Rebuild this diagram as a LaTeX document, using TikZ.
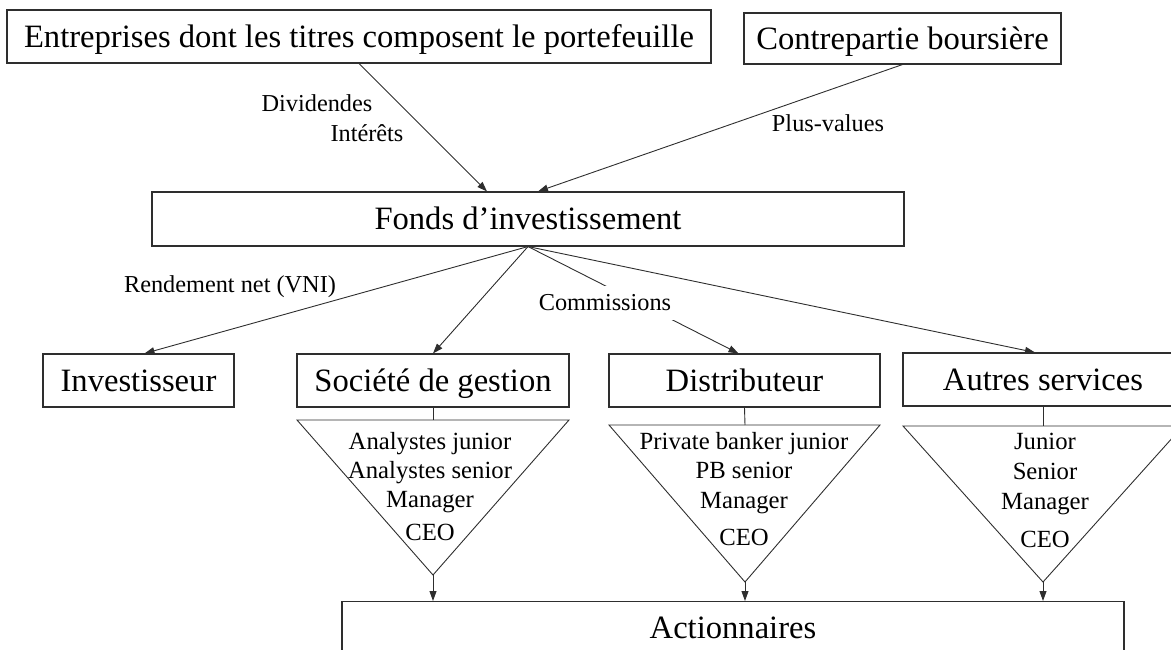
\documentclass[tikz,border=0pt]{standalone}
\usepackage{fontspec}
\setmainfont{Liberation Serif}
\usetikzlibrary{arrows.meta, positioning}
\definecolor{trait}{HTML}{2E2E2E}

\tikzset{
  boite/.style={draw=trait, line width=1.1pt, inner sep=0pt, text height=21.5pt, text depth=0pt,
    font=\fontsize{32.6}{36}\selectfont},
  lbl/.style={inner sep=1pt, font=\fontsize{24.3}{28}\selectfont},
  grade/.style={inner sep=0pt, align=center, anchor=north, font=\fontsize{24.7}{29}\selectfont},
  fleche/.style={draw=trait, line width=0.9pt, -{Triangle[length=10pt,width=7pt]}},
  tige/.style={draw=trait, line width=0.9pt}
}

\begin{document}
\begin{tikzpicture}[x=1pt, y=-1pt]
  \useasboundingbox (0,0) rectangle (1171,650);
  % sources of income
  \node[boite, minimum width=704, minimum height=53] (ent) at (359,36.5)
    {Entreprises dont les titres composent le portefeuille};
  \node[boite, minimum width=317, minimum height=51] (contre) at (902.5,38.5)
    {Contrepartie boursière};
  \node[boite, minimum width=752, minimum height=54] (fonds) at (528,219)
    {Fonds d’investissement};
  \draw[fleche] (ent.south) -- ([xshift=-41pt]fonds.north);
  \draw[fleche] (contre.south) -- ([xshift=10pt]fonds.north);
  \node[lbl] (divid) at (317,103) {Dividendes};
  \node[lbl] (inter) at (367,133) {Intérêts};
  \node[lbl] (plusv) at (828,123) {Plus-values};
  % receivers
  \node[boite, minimum width=191, minimum height=53] (inv) at (138.5,380.5) {Investisseur};
  \node[boite, minimum width=272, minimum height=53] (soc) at (433,380.5) {Société de gestion};
  \node[boite, minimum width=271, minimum height=53] (dist) at (744.5,380.5) {Distributeur};
  \node[boite, minimum width=280, minimum height=53] (autres) at (1043,379.5) {Autres services};
  \draw[fleche] (fonds.south) -- ([xshift=6pt]inv.north);
  \draw[fleche] (fonds.south) -- (soc.north);
  \draw[fleche] (fonds.south) -- ([xshift=-6pt]dist.north);
  \draw[fleche] (fonds.south) -- ([xshift=-8pt]autres.north);
  \node[lbl] (rend) at (230,287) {Rendement net (VNI)};
  \node[lbl, fill=white, inner xsep=7pt, inner ysep=9pt] (comm) at (605,303) {Commissions};
  % shareholders
  \node[boite, minimum width=782, minimum height=52, anchor=north] (act) at (733,601) {Actionnaires};
  % pyramids
  \draw[tige] (297,420) -- (569,420) -- (433,575) coordinate (socB) -- cycle;
  \coordinate (socH) at (433,420);
  \draw[tige] (soc.south) -- (socH);
  \draw[fleche] (socB) -- (socB |- act.north);
  \node[grade] (socT) at (430,432) {Analystes junior\\Analystes senior\\Manager\\[4pt]CEO};
  \draw[tige] (609,425) -- (880,425) -- (745,582) coordinate (distB) -- cycle;
  \coordinate (distH) at (745,425);
  \draw[tige] (dist.south) -- (distH);
  \draw[fleche] (distB) -- (distB |- act.north);
  \node[grade] (distT) at (744,432) {Private banker junior\\PB senior\\[1pt]Manager\\[8pt]CEO};
  \draw[tige] (903,426) -- (1183,426) -- (1043,582) coordinate (autB) -- cycle;
  \coordinate (autH) at (1043,426);
  \draw[tige] (autres.south) -- (autH);
  \draw[fleche] (autB) -- (autB |- act.north);
  \node[grade] (autT) at (1045,433) {Junior\\[1pt]Senior\\[1pt]Manager\\[9pt]CEO};
\end{tikzpicture}
\end{document}
